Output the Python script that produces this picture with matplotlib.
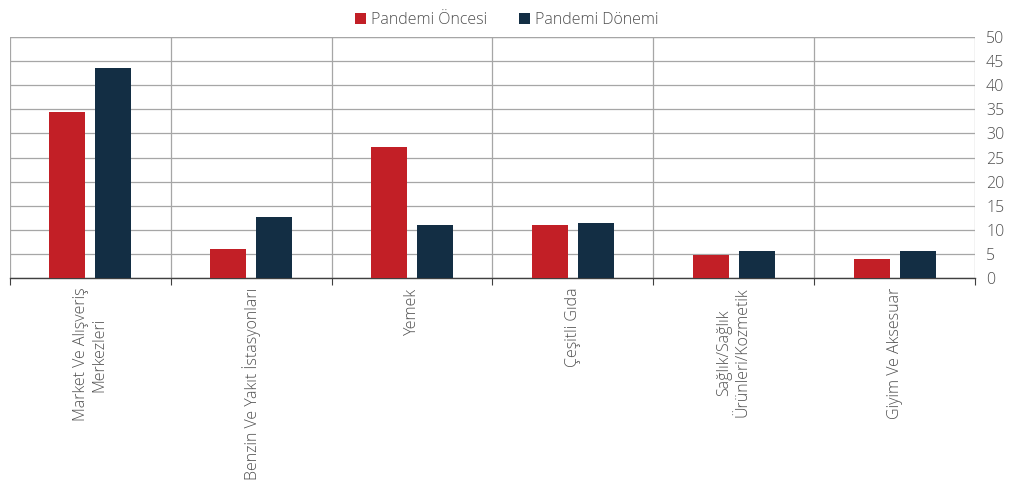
import matplotlib
matplotlib.use("Agg")
import matplotlib.pyplot as plt
import numpy as np

categories = ["Market Ve Alışveriş\nMerkezleri", "Benzin Ve Yakıt İstasyonları", "Yemek",
              "Çeşitli Gıda", "Sağlık/Sağlık\nÜrünleri/Kozmetik", "Giyim Ve Aksesuar"]
before = [34.5, 6.1, 27.2, 11.0, 4.7, 4.0]
during = [43.5, 12.6, 11.0, 11.5, 5.5, 5.5]
series_names = ["Pandemi Öncesi", "Pandemi Dönemi"]
yticks = [0, 5, 10, 15, 20, 25, 30, 35, 40, 45, 50]

red = "#C21F26"
navy = "#132E44"
grid = "#A6A6A6"
txt = "#505050"

plt.rcParams['font.family'] = ['Open Sans', 'DejaVu Sans']
plt.rcParams['font.weight'] = 'light'

fig = plt.figure(figsize=(10.14, 4.96), dpi=100)
ax = fig.add_axes([10/1014, 1-278/496, 965/1014, 241/496])

x = np.arange(len(categories))
w = 0.224
off = 0.143
ax.bar(x - off, before, w, color=red, label=series_names[0], zorder=3)
ax.bar(x + off, during, w, color=navy, label=series_names[1], zorder=3)

ax.set_xlim(-0.5, len(categories) - 0.5)
ax.set_ylim(0, 50)
ax.set_yticks(yticks)
ax.yaxis.tick_right()
ax.tick_params(axis='y', length=0, labelsize=11.5, labelcolor=txt, pad=8)
for sp in ["top", "left", "right"]:
    ax.spines[sp].set_visible(False)
ax.spines["bottom"].set_color("#404040")
ax.spines["bottom"].set_linewidth(1.0)
ax.grid(axis='y', color=grid, linewidth=0.9, zorder=0)

bounds = np.arange(len(categories) + 1) - 0.5
ax.set_xticks(bounds)
ax.set_xticklabels([])
ax.tick_params(axis='x', direction='out', length=5, color="#404040")
for b in bounds:
    ax.axvline(b, color=grid, linewidth=0.9, zorder=0)
ax.axhline(50, color=grid, linewidth=0.9, zorder=0)

for i, c in enumerate(categories):
    ax.text(i, -2.0, c, rotation=90, ha='center', va='top', fontsize=11.5,
            color=txt, multialignment='center', transform=ax.transData)

leg = fig.legend(loc='upper center', bbox_to_anchor=(0.5, 1.005), ncol=2, frameon=False,
                 fontsize=11.5, handlelength=0.7, handleheight=0.7, columnspacing=2.0,
                 handletextpad=0.3)
for t in leg.get_texts():
    t.set_color(txt)

fig.savefig("out.png", dpi=100)
